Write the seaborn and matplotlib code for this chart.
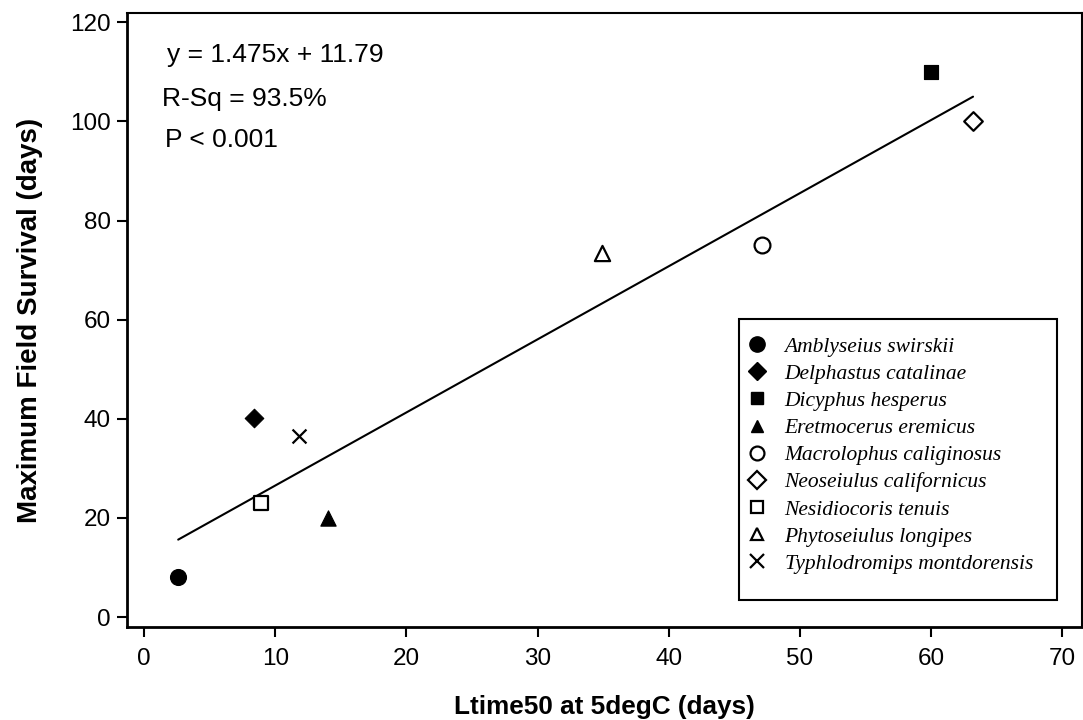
import matplotlib
matplotlib.use("Agg")
import matplotlib.pyplot as plt
import seaborn as sns
import pandas as pd
import numpy as np
from matplotlib.lines import Line2D
from matplotlib.patches import Rectangle

species = ["Amblyseius swirskii", "Delphastus catalinae", "Dicyphus hesperus",
           "Eretmocerus eremicus", "Macrolophus caliginosus", "Neoseiulus californicus",
           "Nesidiocoris tenuis", "Phytoseiulus longipes", "Typhlodromips montdorensis"]
ltime50 = [2.6, 8.4, 60.0, 14.0, 47.1, 63.2, 8.9, 34.9, 11.8]
survival = [8.0, 40.2, 110.0, 20.0, 75.0, 100.0, 23.0, 73.4, 36.5]
markers = ["o", "D", "s", "^", "o", "D", "s", "^", "x"]
filled = [True, True, True, True, False, False, False, False, True]
slope, intercept = 1.475, 11.79
ann_lines = ["y = 1.475x + 11.79", "R-Sq = 93.5%", "P < 0.001"]
xticks = [0, 10, 20, 30, 40, 50, 60, 70]
yticks = [0, 20, 40, 60, 80, 100, 120]

sns.set_style("ticks")
plt.rcParams['font.family'] = ['Liberation Sans', 'DejaVu Sans']
plt.rcParams['text.color'] = 'black'
plt.rcParams['axes.labelcolor'] = 'black'
plt.rcParams['xtick.color'] = 'black'
plt.rcParams['ytick.color'] = 'black'

fig = plt.figure(figsize=(10.83, 7.2), dpi=100)
ax = fig.add_axes([0.1173, 0.1292, 0.8817, 0.8528])

df = pd.DataFrame({"x": ltime50, "y": survival, "species": species})
sizes = {"o": 130, "D": 90, "s": 110, "^": 120, "x": 100}
for i, sp in enumerate(species):
    sub = df[df.species == sp]
    m = markers[i]
    if m == "x":
        sns.scatterplot(data=sub, x="x", y="y", marker="x", color="black",
                        s=sizes[m], linewidth=1.6, ax=ax, legend=False, zorder=3)
    elif filled[i]:
        sns.scatterplot(data=sub, x="x", y="y", marker=m, color="black",
                        edgecolor="black", s=sizes[m], ax=ax, legend=False, zorder=3)
    else:
        sns.scatterplot(data=sub, x="x", y="y", marker=m, facecolor="white",
                        edgecolor="black", linewidth=1.6, s=sizes[m], ax=ax,
                        legend=False, zorder=3)

xl = np.array([min(ltime50), max(ltime50)])
line_df = pd.DataFrame({"x": xl, "y": slope * xl + intercept})
sns.lineplot(data=line_df, x="x", y="y", color="black", linewidth=1.5, ax=ax, zorder=2)

ax.set_xlim(-1.3, 71.5)
ax.set_ylim(-2.0, 121.9)
ax.set_xticks(xticks)
ax.set_yticks(yticks)
ax.tick_params(axis="both", direction="out", length=7, width=1.5, labelsize=17.5, pad=4.5)
ax.tick_params(axis="x", pad=8)
for s in ["left", "bottom"]:
    ax.spines[s].set_linewidth(2.0)
for s in ["top", "right"]:
    ax.spines[s].set_visible(True)
    ax.spines[s].set_linewidth(1.5)
for s in ax.spines.values():
    s.set_color("black")

ax.set_xlabel("Ltime50 at 5degC (days)", fontsize=18.8, fontweight="bold", labelpad=18)
ax.set_ylabel("Maximum Field Survival (days)", fontsize=20, fontweight="bold", labelpad=20)

ann_y = [0.932, 0.860, 0.793]
ann_x = [0.042, 0.037, 0.04]
for t, xx, yy in zip(ann_lines, ann_x, ann_y):
    ax.text(xx, yy, t, transform=ax.transAxes, fontsize=19, va="center", ha="left")

handles = []
for i, sp in enumerate(species):
    m = markers[i]
    if m == "x":
        h = Line2D([], [], marker="x", color="black", linestyle="none", markersize=10, markeredgewidth=1.6)
    elif filled[i]:
        h = Line2D([], [], marker=m, color="black", markerfacecolor="black", linestyle="none",
                   markersize=11 if m == "o" else 9)
    else:
        h = Line2D([], [], marker=m, color="black", markerfacecolor="white", linestyle="none",
                   markersize=10 if m == "o" else 9, markeredgewidth=1.6)
    handles.append(h)

leg = ax.legend(handles, species, loc="upper left", bbox_to_anchor=(0.639, 0.487),
                frameon=False, prop={"family": "Liberation Serif", "style": "italic", "size": 15.5},
                handletextpad=0.8, labelspacing=0.33, borderaxespad=0, handlelength=1.0)
rect = Rectangle((0.641, 0.044), 0.333, 0.4576, transform=ax.transAxes, fill=False,
                 edgecolor="black", linewidth=1.5, zorder=4)
ax.add_patch(rect)

fig.savefig("out.png", dpi=100)
